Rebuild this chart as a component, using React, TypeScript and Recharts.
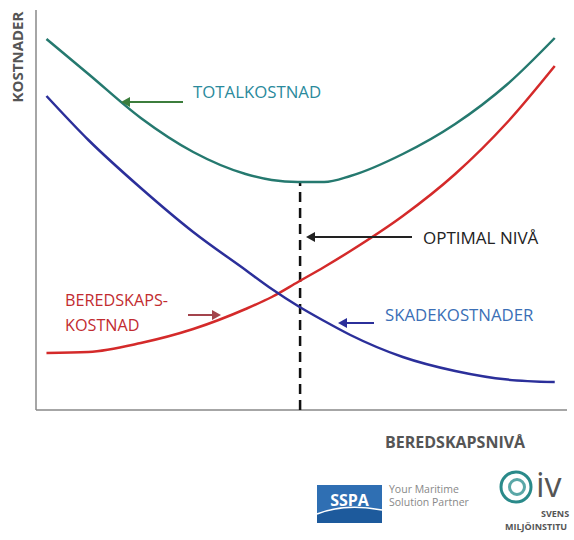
import { LineChart, Line, XAxis, YAxis, ReferenceLine } from 'recharts';

// beredskapsnivå (x), kostnader (y)
const levels = [2, 10, 20, 30, 40, 45, 50, 55, 60, 70, 80, 90, 99];
const totalCost = [92.75, 84, 73, 64.5, 59, 57.5, 57, 57, 58.5, 64, 71.5, 81.5, 93];
const prepCost = [14.25, 14.5, 16.75, 20.25, 25.25, 28.25, 32, 35.75, 39.75, 48.5, 59, 72, 86];
const damageCost = [78.5, 67.5, 55.5, 44.5, 35, 30.25, 26, 22.25, 18.75, 13.25, 9.75, 7.6, 7];
const optimalLevel = 50.4;
const optimalCost = 57;
const xMax = 101.34;

const data = levels.map((x, i) => ({
  x,
  total: totalCost[i],
  prep: prepCost[i],
  damage: damageCost[i],
}));

const font = "'Open Sans', 'Liberation Sans', sans-serif";

function Arrow({ x1, x2, y, color }: { x1: number; x2: number; y: number; color: string }) {
  const dir = x2 > x1 ? 1 : -1;
  return (
    <g>
      <line x1={x1} y1={y} x2={x2 - dir * 6} y2={y} stroke={color} strokeWidth={2} />
      <polygon points={`${x2},${y} ${x2 - dir * 9},${y - 5} ${x2 - dir * 9},${y + 5}`} fill={color} />
    </g>
  );
}

export default function App() {
  return (
    <div style={{ position: 'absolute', left: 0, top: 0, width: 574, height: 540, background: '#fff' }}>
      <LineChart width={574} height={540} data={data} margin={{ top: 10, right: 7, bottom: 130, left: 36 }}>
        <XAxis type="number" dataKey="x" domain={[0, xMax]} hide />
        <YAxis type="number" domain={[0, 100]} hide />
        {/* axis lines */}
        <ReferenceLine segment={[{ x: 0, y: 0 }, { x: 0, y: 100 }]} stroke="#888" strokeWidth={1.5} />
        <ReferenceLine segment={[{ x: 0, y: 0 }, { x: xMax, y: 0 }]} stroke="#888" strokeWidth={1.5} />
        <ReferenceLine
          segment={[
            { x: optimalLevel, y: 0 },
            { x: optimalLevel, y: optimalCost },
          ]}
          stroke="#111"
          strokeWidth={2.5}
          strokeDasharray="10 6"
        />
        <Line type="monotone" dataKey="total" stroke="#25796f" strokeWidth={2.5} dot={false} isAnimationActive={false} />
        <Line type="monotone" dataKey="prep" stroke="#d42a2a" strokeWidth={2.5} dot={false} isAnimationActive={false} />
        <Line type="monotone" dataKey="damage" stroke="#2b2f9a" strokeWidth={2.5} dot={false} isAnimationActive={false} />
      </LineChart>

      <svg width={574} height={540} style={{ position: 'absolute', left: 0, top: 0, pointerEvents: 'none' }}>
        <text
          transform="translate(23 57) rotate(-90)"
          textAnchor="middle"
          fontFamily={font}
          fontWeight={700}
          fontSize={15}
          fill="#555"
        >
          KOSTNADER
        </text>

        <text x={193} y={98} fontFamily={font} fontSize={16.8} fill="#2a8a9c">TOTALKOSTNAD</text>
        <Arrow x1={183} x2={121} y={102} color="#3c7d3c" />

        <text x={423} y={244} fontFamily={font} fontSize={17} fill="#222">OPTIMAL NIVÅ</text>
        <Arrow x1={412} x2={306} y={237} color="#222" />

        <text fontFamily={font} fontSize={16.2} fill="#c22b30">
          <tspan x={65} y={306}>BEREDSKAPS-</tspan>
          <tspan x={65} y={331}>KOSTNAD</tspan>
        </text>
        <Arrow x1={188} x2={221} y={315} color="#a3444c" />

        <text x={385} y={321} fontFamily={font} fontSize={16.8} fill="#3b6fb6">SKADEKOSTNADER</text>
        <Arrow x1={374} x2={338} y={323} color="#2b2f9a" />

        <text x={385} y={448} fontFamily={font} fontWeight={700} fontSize={16} fill="#555">BEREDSKAPSNIVÅ</text>

        {/* SSPA logo */}
        <rect x={317} y={485} width={65} height={38} fill="#2f6fb3" />
        <path d="M317 514 Q345 503 382 510 L382 523 L317 523 Z" fill="#1d5a9c" />
        <path d="M317 514 Q345 503 382 510" fill="none" stroke="#fff" strokeWidth={1.5} />
        <text x={349.5} y={506} textAnchor="middle" fontFamily={font} fontWeight={700} fontSize={16} fill="#fff">SSPA</text>
        <text x={389} y={493} fontFamily={font} fontSize={10.5} fill="#888">Your Maritime</text>
        <text x={389} y={506} fontFamily={font} fontSize={10.5} fill="#888">Solution Partner</text>

        {/* IVL logo */}
        <circle cx={516} cy={487} r={15} fill="none" stroke="#2a8a8a" strokeWidth={3} />
        <circle cx={517} cy={487} r={7.5} fill="none" stroke="#5aa7a7" strokeWidth={3} />
        <text x={536} y={497} fontFamily={font} fontSize={34} fill="#555">iv</text>
        <text x={541} y={517} fontFamily={font} fontWeight={700} fontSize={9} fill="#555">SVENS</text>
        <text x={505} y={530} fontFamily={font} fontWeight={700} fontSize={9} fill="#555">MILJÖINSTITU</text>
      </svg>
    </div>
  );
}
